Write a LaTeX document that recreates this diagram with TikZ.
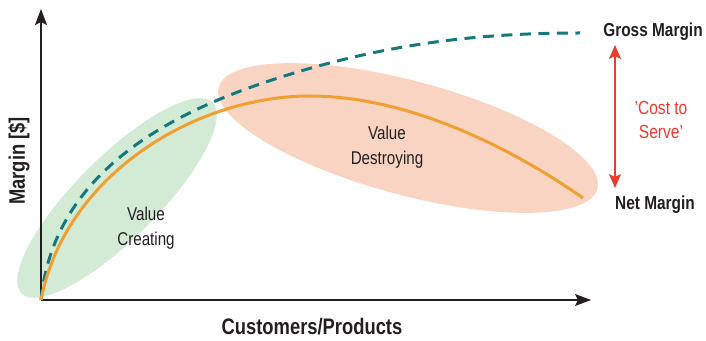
\documentclass[tikz,border=0pt]{standalone}
\usepackage{fontspec}
\setmainfont[FakeStretch=0.82]{Liberation Sans}
\usetikzlibrary{arrows.meta,shapes.geometric}

\definecolor{inkdark}{HTML}{231F20}
\definecolor{greenzone}{HTML}{D3EAD5}
\definecolor{peachzone}{HTML}{FAD4C2}
\definecolor{grossteal}{HTML}{157880}
\definecolor{netorange}{HTML}{F0A033}
\definecolor{costred}{HTML}{EE3A2E}

\tikzset{
  axisline/.style={draw=inkdark, line width=1.4pt,
    -{Stealth[length=16pt,width=12pt,inset=3pt]}},
  zone/.style={ellipse, draw=none, inner sep=0pt},
  axislabel/.style={font=\bfseries\fontsize{22.4}{24}\selectfont, text=inkdark, inner sep=0pt},
  sidelabel/.style={font=\bfseries\fontsize{18.8}{21}\selectfont, text=inkdark, inner sep=0pt},
  zonelabel/.style={font=\fontsize{18.5}{24.5}\selectfont, text=inkdark, align=center, inner sep=0pt},
  grosscurve/.style={draw=grossteal, line width=3pt, dash pattern=on 11pt off 7.5pt},
  netcurve/.style={draw=netorange, line width=3pt},
  costarrow/.style={draw=costred, line width=1.6pt,
    {Stealth[length=14pt,width=12pt,inset=3pt]}-{Stealth[length=14pt,width=12pt,inset=3pt]}},
  costlabel/.style={font=\fontsize{19}{24}\selectfont, text=costred, align=center, inner sep=0pt}
}

\begin{document}
\begin{tikzpicture}[x=1pt,y=1pt]
  \useasboundingbox (0,0) rectangle (706,340);

  % shaded regions
  \node[zone, fill=greenzone, minimum width=270pt, minimum height=82pt, rotate=45]
    (creating) at (117,142) {};
  \node[zone, fill=peachzone, minimum width=392pt, minimum height=114pt, rotate=-15]
    (destroying) at (408,202) {};

  % axes
  \coordinate (origin) at (41,40);
  \coordinate (ytip) at (41,331);
  \coordinate (xtip) at (591,40);
  \draw[axisline] (origin) -- (ytip);
  \draw[axisline] (origin) -- (xtip);

  % gross margin curve (dashed)
  \coordinate (grossend) at (580,307);
  \draw[grosscurve] (origin) .. controls (52,150) and (140,215) .. (260,256)
                             .. controls (380,297) and (480,307) .. (grossend);

  % net margin curve, rising to a peak and falling away
  \coordinate (netpeak) at (310,244);
  \coordinate (netend) at (583,142);
  \draw[netcurve] (origin) .. controls (65,165) and (195,244) .. (netpeak)
                           .. controls (400,244) and (500,200) .. (netend);

  % labels
  \node[axislabel, rotate=90] (ylabel) at (19,179) {Margin [\$]};
  \node[axislabel] (xlabel) at (312,13) {Customers/Products};
  \node[zonelabel] (creatinglabel) at (146,112) {Value\\Creating};
  \node[zonelabel] (destroyinglabel) at (387,193) {Value\\Destroying};
  \node[sidelabel] (gross) at (653,308) {Gross Margin};
  \node[sidelabel] (net) at (655,135) {Net Margin};

  % cost to serve gap
  \coordinate (costtop) at (615,295);
  \coordinate (costbottom) at (615,152);
  \draw[costarrow] (costtop) -- (costbottom);
  \node[costlabel] (cost) at (661,220) {'Cost to\\Serve'};
\end{tikzpicture}
\end{document}
